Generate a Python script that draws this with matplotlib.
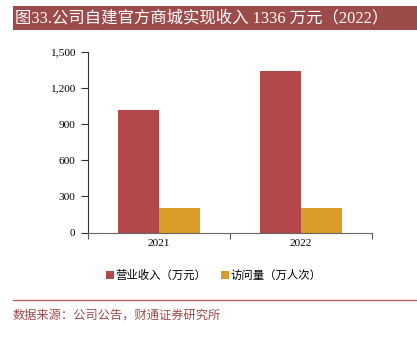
import numpy as np
import matplotlib.pyplot as plt
from matplotlib.patches import Rectangle
from matplotlib.lines import Line2D

plt.rcParams['font.family'] = ['Noto Sans CJK SC', 'DejaVu Sans']

years = ['2021', '2022']
revenue = [1020, 1336]      # 营业收入（万元）
visits = [200, 205]         # 访问量（万人次）
yticks = [0, 300, 600, 900, 1200, 1500]

red = '#B4474A'
orange = '#DB9D28'
bar_red = '#9C4B4B'
num_font = 'Liberation Serif'

fig = plt.figure(figsize=(4.17, 3.37), dpi=100)

# title band
fig.add_artist(Rectangle((13 / 417, 1 - 30 / 337), 1 - 13 / 417, 24 / 337,
                         transform=fig.transFigure, color=bar_red, lw=0))
fig.text(15 / 417, 1 - 18 / 337, '图33.公司自建官方商城实现收入 1336 万元（2022）',
         color='white', fontsize=11.8, va='center', ha='left',
         family=['Liberation Serif', 'Noto Sans CJK SC'])

ax = fig.add_axes([88 / 417, 1 - 232.5 / 337, 284 / 417, 180.8 / 337])
x = np.arange(len(years))
w = 0.29
ax.bar(x - w / 2, revenue, w, color=red, label='营业收入（万元）')
ax.bar(x + w / 2, visits, w, color=orange, label='访问量（万人次）')

ax.set_xlim(-0.5, 1.5)
ax.set_ylim(0, 1500)
ax.set_yticks(yticks)
ax.set_yticklabels([f'{v:,}' for v in yticks], family=num_font, fontsize=8.2)
ax.set_xticks([-0.5, 0.5, 1.5])
ax.set_xticklabels([])
ax.set_xticks(x, minor=True)
ax.set_xticklabels(years, minor=True, family=num_font, fontsize=8.2)
ax.tick_params(axis='x', which='minor', length=0, pad=5)
ax.tick_params(axis='x', which='major', length=4, color='#555555')
ax.tick_params(axis='y', length=5, pad=4, color='#333333')
for s in ['top', 'right']:
    ax.spines[s].set_visible(False)
ax.spines['left'].set_color('#333333')
ax.spines['bottom'].set_color('#666666')
ax.spines['left'].set_linewidth(0.8)
ax.spines['bottom'].set_linewidth(0.8)

fig.legend(loc='center', bbox_to_anchor=(214 / 417, 1 - 275 / 337), ncol=2,
           frameon=False, fontsize=8.2, handlelength=0.7, handleheight=0.7,
           handletextpad=0.1, columnspacing=1.3)

# source line and note
fig.add_artist(Line2D([13 / 417, 1], [1 - 300 / 337, 1 - 300 / 337],
                      transform=fig.transFigure, color='#C0605C', lw=1.0))
fig.text(13 / 417, 1 - 315 / 337, '数据来源：公司公告，财通证券研究所',
         color='#9C4B4B', fontsize=8.8, va='center', ha='left')

fig.savefig('out.png', dpi=100)
